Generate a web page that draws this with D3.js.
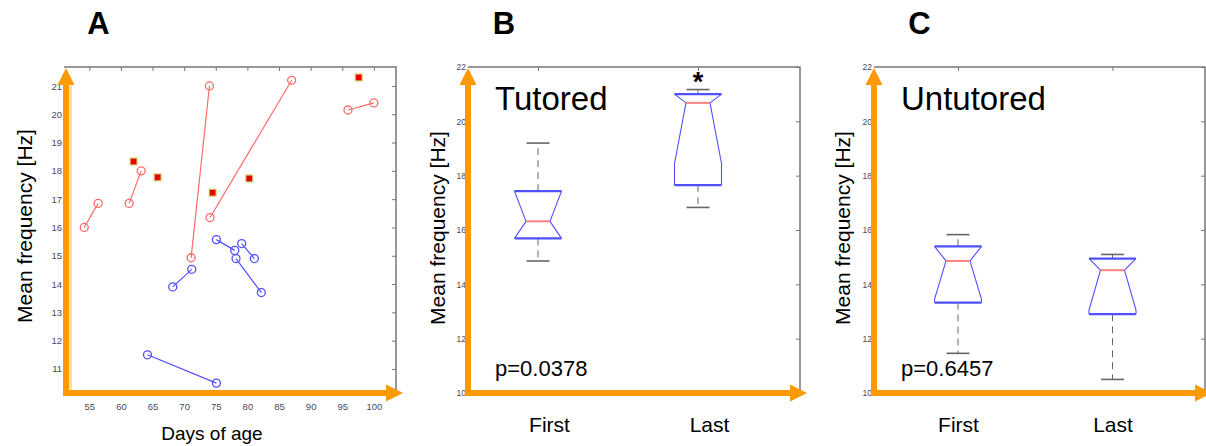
<!DOCTYPE html>
<html>
<head>
<meta charset="utf-8">
<script src="https://cdn.jsdelivr.net/npm/d3@7"></script>
<style>
body { margin: 0; background: #fff; }
svg { display: block; font-family: "Liberation Sans", Arial, sans-serif; }
</style>
</head>
<body>
<svg id="chart" width="1206" height="446"></svg>
<script>
'use strict';

const dayTicks = [55, 60, 65, 70, 75, 80, 85, 90, 95, 100];
const freqTicksA = [11, 12, 13, 14, 15, 16, 17, 18, 19, 20, 21];
const freqTicksBox = [10, 12, 14, 16, 18, 20, 22];
const groups = ['First', 'Last'];

// panel A: [day, frequency] of first and last recording per bird
const tutoredPairs = [
    [[54.2, 16.0], [56.4, 16.85]],
    [[61.3, 16.85], [63.2, 18.0]],
    [[71.1, 14.93], [74.0, 21.0]],
    [[74.1, 16.35], [87.0, 21.2]],
    [[95.9, 20.15], [100.0, 20.4]]
];
const tutoredSingles = [[62.0, 18.33], [65.8, 17.77], [74.5, 17.23], [80.3, 17.73], [97.6, 21.3]];
const untutoredPairs = [
    [[68.2, 13.9], [71.2, 14.52]],
    [[75.1, 15.57], [78.0, 15.19]],
    [[78.2, 14.9], [82.2, 13.7]],
    [[79.1, 15.43], [81.1, 14.9]],
    [[64.2, 11.5], [75.1, 10.5]]
];

// boxes: [whiskerLo, q1, notchLo, median, notchHi, q3, whiskerHi]
const tutoredBoxes = [
    [14.86, 15.69, 15.69, 16.32, 17.43, 17.43, 19.2],
    [16.83, 17.65, 18.45, 20.68, 21.0, 21.0, 21.17]
];
const untutoredBoxes = [
    [11.46, 13.33, 13.45, 14.86, 15.4, 15.4, 15.83],
    [10.5, 12.9, 13.05, 14.52, 14.95, 14.95, 15.1]
];

const orange = '#ff9900',
    frameColor = '#777',
    tickText = '#4a4a58',
    red = '#ff6a6a',
    blue = '#5050ff',
    svg = d3.select('#chart');

function frame(x0, x1, y0, y1) {
    svg.append('path')
        .attr('d', `M${x0},${y0}H${x1}V${y1}`)
        .attr('fill', 'none')
        .attr('stroke', frameColor)
        .attr('stroke-width', 1.5);
}

function orangeAxes(x0, x1, y0, y1) {
    let g = svg.append('g');
    g.append('line')
        .attr('x1', x0).attr('x2', x1 - 8)
        .attr('y1', y1).attr('y2', y1)
        .attr('stroke', orange).attr('stroke-width', 6);
    g.append('line')
        .attr('x1', x0).attr('x2', x0)
        .attr('y1', y1 + 3).attr('y2', y0 + 14)
        .attr('stroke', orange).attr('stroke-width', 6);
    g.append('path')
        .attr('d', `M${x1},${y1}L${x1 - 17},${y1 - 8.5}L${x1 - 17},${y1 + 8.5}Z`)
        .attr('fill', orange);
    g.append('path')
        .attr('d', `M${x0},${y0 + 1}L${x0 - 8.5},${y0 + 18}L${x0 + 8.5},${y0 + 18}Z`)
        .attr('fill', orange);
}

function styleTicks(g, size) {
    g.select('.domain').remove();
    g.selectAll('line').attr('stroke', frameColor);
    g.selectAll('text')
        .attr('fill', tickText)
        .style('font-size', size + 'px');
}

function panelLabel(text, x) {
    svg.append('text')
        .attr('x', x).attr('y', 34)
        .attr('text-anchor', 'middle')
        .style('font-size', '31px')
        .style('font-weight', 'bold')
        .text(text);
}

function yTitle(x, yc) {
    svg.append('text')
        .attr('transform', `translate(${x},${yc}) rotate(-90)`)
        .attr('text-anchor', 'middle')
        .style('font-size', '21px')
        .text('Mean frequency [Hz]');
}

// ---------- panel A ----------
const xA = d3.scaleLinear().domain([51, 103.5]).range([64, 396]),
    yA = d3.scaleLinear().domain([10.15, 21.67]).range([393, 67]);

panelLabel('A', 98.5);
frame(64, 396, 67, 393);

svg.append('g').attr('transform', 'translate(0,67)')
    .call(d3.axisBottom(xA).tickValues(dayTicks).tickSize(4).tickFormat(''))
    .call(g => styleTicks(g, 9));
svg.append('g').attr('transform', 'translate(396,0)')
    .call(d3.axisLeft(yA).tickValues(freqTicksA).tickSize(4).tickFormat(''))
    .call(g => styleTicks(g, 9));
svg.append('g').attr('transform', 'translate(0,393)')
    .call(d3.axisBottom(xA).tickValues(dayTicks).tickSize(0).tickPadding(10))
    .call(g => styleTicks(g, 9.5));
svg.append('g').attr('transform', 'translate(64,0)')
    .call(d3.axisLeft(yA).tickValues(freqTicksA).tickSize(0).tickPadding(2))
    .call(g => styleTicks(g, 9.5));

const lineA = d3.line().x(d => xA(d[0])).y(d => yA(d[1]));

function pairs(data, color) {
    let g = svg.append('g');
    g.selectAll('path').data(data).enter().append('path')
        .attr('d', lineA)
        .attr('fill', 'none')
        .attr('stroke', color)
        .attr('stroke-width', 1.2);
    g.selectAll('circle').data(data.flat()).enter().append('circle')
        .attr('cx', d => xA(d[0]))
        .attr('cy', d => yA(d[1]))
        .attr('r', 4)
        .attr('fill', 'none')
        .attr('stroke', color)
        .attr('stroke-width', 1.3);
}

pairs(tutoredPairs, red);
pairs(untutoredPairs, blue);

svg.append('g').selectAll('rect').data(tutoredSingles).enter().append('rect')
    .attr('x', d => xA(d[0]) - 3.5)
    .attr('y', d => yA(d[1]) - 3.5)
    .attr('width', 7).attr('height', 7)
    .attr('fill', '#e60000')
    .attr('stroke', '#d2d87a')
    .attr('stroke-width', 1.2);

svg.append('rect')
    .attr('x', 69).attr('y', 86).attr('width', 3).attr('height', 304)
    .attr('fill', '#ffdcaa');
orangeAxes(66, 403, 67, 393);

svg.append('text')
    .attr('x', 212).attr('y', 440)
    .attr('text-anchor', 'middle')
    .style('font-size', '19px')
    .text('Days of age');
yTitle(32, 226);

// ---------- panels B and C ----------
const yBox = d3.scaleLinear().domain([10, 22]).range([393, 67]);

function boxPanel(opts) {
    let x = d3.scaleLinear().domain([1, 2]).range(opts.centers),
        x0 = opts.left, x1 = opts.right;

    panelLabel(opts.letter, opts.letterX);
    frame(x0, x1, 67, 393);

    svg.append('g').attr('transform', 'translate(0,67)')
        .call(d3.axisBottom(x).tickValues([1, 2]).tickSize(4).tickFormat(''))
        .call(g => styleTicks(g, 8));
    svg.append('g').attr('transform', `translate(${x1},0)`)
        .call(d3.axisLeft(yBox).tickValues(freqTicksBox).tickSize(4).tickFormat(''))
        .call(g => styleTicks(g, 8));
    svg.append('g').attr('transform', `translate(${x0 - 1},0)`)
        .call(d3.axisLeft(yBox).tickValues(freqTicksBox).tickSize(0).tickPadding(1))
        .call(g => styleTicks(g, 8.5));
    svg.append('g').attr('transform', 'translate(0,393)')
        .call(d3.axisBottom(x).tickValues([1, 2]).tickSize(0).tickPadding(24)
            .tickFormat((d, i) => groups[i]))
        .call(g => {
            g.select('.domain').remove();
            g.selectAll('text')
                .attr('fill', '#000')
                .attr('dx', opts.labelShift)
                .style('font-size', '21px');
        });

    opts.boxes.forEach((b, i) => {
        let cx = x(i + 1), hw = 23.5, nw = 12, cw = 11.5,
            [wLo, q1, nLo, med, nHi, q3, wHi] = b.map(v => yBox(v)),
            g = svg.append('g');

        g.append('line')
            .attr('x1', cx).attr('x2', cx).attr('y1', q3).attr('y2', wHi)
            .attr('stroke', '#666').attr('stroke-dasharray', '7,5');
        g.append('line')
            .attr('x1', cx).attr('x2', cx).attr('y1', q1).attr('y2', wLo)
            .attr('stroke', '#666').attr('stroke-dasharray', '7,5');
        [wLo, wHi].forEach(y => {
            g.append('line')
                .attr('x1', cx - cw).attr('x2', cx + cw).attr('y1', y).attr('y2', y)
                .attr('stroke', '#666').attr('stroke-width', 1.6);
        });

        g.append('path')
            .attr('d', `M${cx - hw},${q3}L${cx - hw},${nHi}L${cx - nw},${med}L${cx - hw},${nLo}L${cx - hw},${q1}` +
                `M${cx + hw},${q3}L${cx + hw},${nHi}L${cx + nw},${med}L${cx + hw},${nLo}L${cx + hw},${q1}`)
            .attr('fill', 'none').attr('stroke', blue).attr('stroke-width', 1.1);
        [q1, q3].forEach(y => {
            g.append('line')
                .attr('x1', cx - hw).attr('x2', cx + hw).attr('y1', y).attr('y2', y)
                .attr('stroke', blue).attr('stroke-width', 2.2);
        });
        g.append('line')
            .attr('x1', cx - nw).attr('x2', cx + nw).attr('y1', med).attr('y2', med)
            .attr('stroke', '#ff8080').attr('stroke-width', 2);
    });

    orangeAxes(x0, x1 + 7, 67, 393);

    svg.append('text')
        .attr('x', opts.textX).attr('y', 110)
        .style('font-size', '33px')
        .text(opts.title);
    svg.append('text')
        .attr('x', opts.textX).attr('y', 376)
        .style('font-size', '22px')
        .text(opts.p);
    yTitle(opts.titleX, 228);

    if (opts.star) {
        svg.append('text')
            .attr('x', x(2)).attr('y', 91)
            .attr('text-anchor', 'middle')
            .style('font-size', '27px')
            .style('font-weight', 'bold')
            .text('*');
    }
}

boxPanel({
    letter: 'B', letterX: 504, left: 468, right: 800, centers: [538, 698],
    boxes: tutoredBoxes, title: 'Tutored', p: 'p=0.0378', textX: 495,
    titleX: 445, labelShift: 11, star: true
});

boxPanel({
    letter: 'C', letterX: 919.5, left: 874, right: 1205, centers: [958, 1112.5],
    boxes: untutoredBoxes, title: 'Untutored', p: 'p=0.6457', textX: 901,
    titleX: 850, labelShift: 0, star: false
});
</script>
</body>
</html>
